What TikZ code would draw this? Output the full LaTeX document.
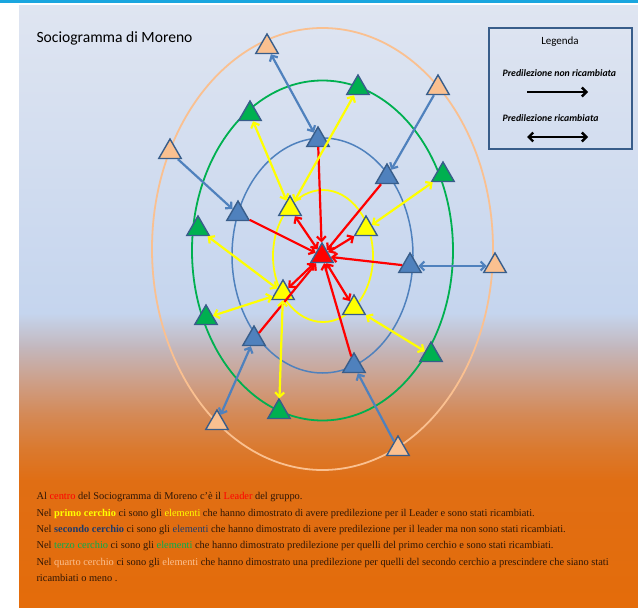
\documentclass[tikz,border=0pt]{standalone}
\usepackage{fontspec}
\setmainfont{Liberation Serif}
\newfontfamily\calibri{Carlito}
\usetikzlibrary{shapes.geometric,arrows.meta}

\definecolor{barra}{HTML}{1AA6DF}
\definecolor{bordo}{HTML}{385D8A}
\definecolor{blu}{HTML}{4F81BD}
\definecolor{verde}{HTML}{00B050}
\definecolor{pesca}{HTML}{FAC090}
\definecolor{giallo}{HTML}{FFFF00}
\definecolor{rosso}{HTML}{FF0000}
\definecolor{testo}{HTML}{2E1606}
\definecolor{navy}{HTML}{1F3A6A}
\definecolor{sf0}{HTML}{E46C0A}
\definecolor{sf1}{HTML}{E06E14}
\definecolor{sf2}{HTML}{DA7A30}
\definecolor{sf3}{HTML}{D48A58}
\definecolor{sf4}{HTML}{CDA08A}
\definecolor{sf5}{HTML}{C3B7BD}
\definecolor{sf6}{HTML}{C5D5EE}
\definecolor{sf7}{HTML}{DFE5F1}

\begin{document}
\begin{tikzpicture}[x=1pt, y=-1pt, >={Straight Barb[length=4.5pt,width=9pt]}]

    % stili
    \tikzstyle{nodo}=[regular polygon, regular polygon sides=3, draw=bordo, line width=1.4pt, minimum size=26pt, inner sep=0pt]
    \tikzstyle{leader}=[nodo, fill=rosso]
    \tikzstyle{primo}=[nodo, fill=giallo]
    \tikzstyle{secondo}=[nodo, fill=blu]
    \tikzstyle{terzo}=[nodo, fill=verde]
    \tikzstyle{quarto}=[nodo, fill=pesca]
    \tikzstyle{freccia}=[line width=2.2pt]

    \useasboundingbox (0,0) rectangle (638,608);

    % sfondo
    \fill[white] (0,0) rectangle (638,608);
    \fill[barra] (0,0) rectangle (638,2.5);
    \shade[top color=sf7, bottom color=sf6] (19,5) rectangle (638,313.5);
    \shade[top color=sf6, bottom color=sf5] (19,313) rectangle (638,347.5);
    \shade[top color=sf5, bottom color=sf4] (19,347) rectangle (638,380.5);
    \shade[top color=sf4, bottom color=sf3] (19,380) rectangle (638,413.5);
    \shade[top color=sf3, bottom color=sf2] (19,413) rectangle (638,447.5);
    \shade[top color=sf2, bottom color=sf1] (19,447) rectangle (638,480.5);
    \shade[top color=sf1, bottom color=sf0] (19,480) rectangle (638,608);

    % titolo
    \node[anchor=west, font=\calibri\fontsize{15.6}{18}\selectfont] (titolo) at (33,38) {Sociogramma di Moreno};

    % cerchi
    \draw[pesca, line width=1.8pt] (322.5,249) ellipse [x radius=170.5, y radius=221];
    \draw[verde, line width=1.8pt] (322.5,250.5) ellipse [x radius=130.5, y radius=170];
    \draw[blu, line width=1.5pt] (322.5,255.5) ellipse [x radius=90.5, y radius=117.5];
    \draw[giallo, line width=1.8pt] (323,256) ellipse [x radius=50, y radius=66];

    % leader
    \node[leader] (R) at (322,256) {};

    % primo cerchio
    \node[primo] (Y1) at (290,209) {};
    \node[primo] (Y2) at (366,229) {};
    \node[primo] (Y3) at (283,293) {};
    \node[primo] (Y4) at (354,308) {};

    % secondo cerchio
    \node[secondo] (B1) at (318,140) {};
    \node[secondo] (B2) at (387,177) {};
    \node[secondo] (B3) at (238,214) {};
    \node[secondo] (B4) at (410,266) {};
    \node[secondo] (B5) at (254,339) {};
    \node[secondo] (B6) at (354,366) {};

    % terzo cerchio
    \node[terzo] (G1) at (250,114) {};
    \node[terzo] (G2) at (358,88) {};
    \node[terzo] (G3) at (443,175) {};
    \node[terzo] (G4) at (198,229) {};
    \node[terzo] (G5) at (206,318) {};
    \node[terzo] (G6) at (431,355) {};
    \node[terzo] (G7) at (279,412) {};

    % quarto cerchio
    \node[quarto] (O1) at (267,47) {};
    \node[quarto] (O2) at (438,88) {};
    \node[quarto] (O3) at (170,152) {};
    \node[quarto] (O4) at (495,266) {};
    \node[quarto] (O5) at (217,423) {};
    \node[quarto] (O6) at (398,449) {};

    % frecce rosse (verso il leader)
    \draw[freccia, rosso, ->] (B1) -- (R);
    \draw[freccia, rosso, ->] (B2) -- (R);
    \draw[freccia, rosso, ->] (B3) -- (R);
    \draw[freccia, rosso, ->] (B4) -- (R);
    \draw[freccia, rosso, ->] (B5) -- (R);
    \draw[freccia, rosso, ->] (B6) -- (R);
    \draw[freccia, rosso, <->] (Y1) -- (R);
    \draw[freccia, rosso, <->] (Y2) -- (R);
    \draw[freccia, rosso, <->] (Y3) -- (R);
    \draw[freccia, rosso, <->] (Y4) -- (R);

    % frecce gialle
    \draw[freccia, giallo, <->] (G1) -- (Y1);
    \draw[freccia, giallo, <->] (G2) -- (Y1);
    \draw[freccia, giallo, <->] (G3) -- (Y2);
    \draw[freccia, giallo, <->] (G4) -- (Y3);
    \draw[freccia, giallo, <->] (G5) -- (Y3);
    \draw[freccia, giallo, <->] (G7) -- (Y3);
    \draw[freccia, giallo, <->] (G6) -- (Y4);

    % frecce blu
    \draw[freccia, blu, <->] (O1) -- (B1);
    \draw[freccia, blu, ->] (O2) -- (B2);
    \draw[freccia, blu, ->] (O3) -- (B3);
    \draw[freccia, blu, <->] (O4) -- (B4);
    \draw[freccia, blu, <->] (O5) -- (B5);
    \draw[freccia, blu, ->] (O6) -- (B6);

    % legenda
    \draw[bordo, line width=1.6pt] (489,28) rectangle (632,149);
    \node[font=\calibri\fontsize{11}{13}\selectfont] (legenda) at (560,42) {Legenda};
    \node[anchor=west, font=\calibri\fontsize{9.8}{12}\selectfont\bfseries\itshape] (nonric) at (499,73) {Predilezione non ricambiata};
    \node[anchor=west, font=\calibri\fontsize{9.8}{12}\selectfont\bfseries\itshape] (ric) at (499,118) {Predilezione ricambiata};
    \coordinate (a1) at (527,92);
    \coordinate (a2) at (588,92);
    \coordinate (b1) at (527,137);
    \coordinate (b2) at (588,137);
    \draw[line width=2.4pt, ->] (a1) -- (a2);
    \draw[line width=2.4pt, <->] (b1) -- (b2);

    % spiegazione
    \node[anchor=north west, align=left, text=testo, font=\fontsize{10.4}{16.4}\selectfont] (spiegazione) at (33,489) {
        Al \textcolor{rosso}{centro} del Sociogramma di Moreno c'è il \textcolor{rosso}{Leader} del gruppo.\\
        Nel \textcolor{giallo}{\textbf{primo cerchio}} ci sono gli \textcolor{giallo}{elementi} che hanno dimostrato di avere predilezione per il Leader e sono stati ricambiati.\\
        Nel \textcolor{navy}{\textbf{secondo cerchio}} ci sono gli \textcolor{navy}{elementi} che hanno dimostrato di avere predilezione per il leader ma non sono stati ricambiati.\\
        Nel \textcolor{verde}{terzo cerchio} ci sono gli \textcolor{verde}{elementi} che hanno dimostrato predilezione per quelli del primo cerchio e sono stati ricambiati.\\
        Nel \textcolor{pesca}{quarto cerchio} ci sono gli \textcolor{pesca}{elementi} che hanno dimostrato una predilezione per quelli del secondo cerchio a prescindere che siano stati\\
        ricambiati o meno .
    };

\end{tikzpicture}
\end{document}
